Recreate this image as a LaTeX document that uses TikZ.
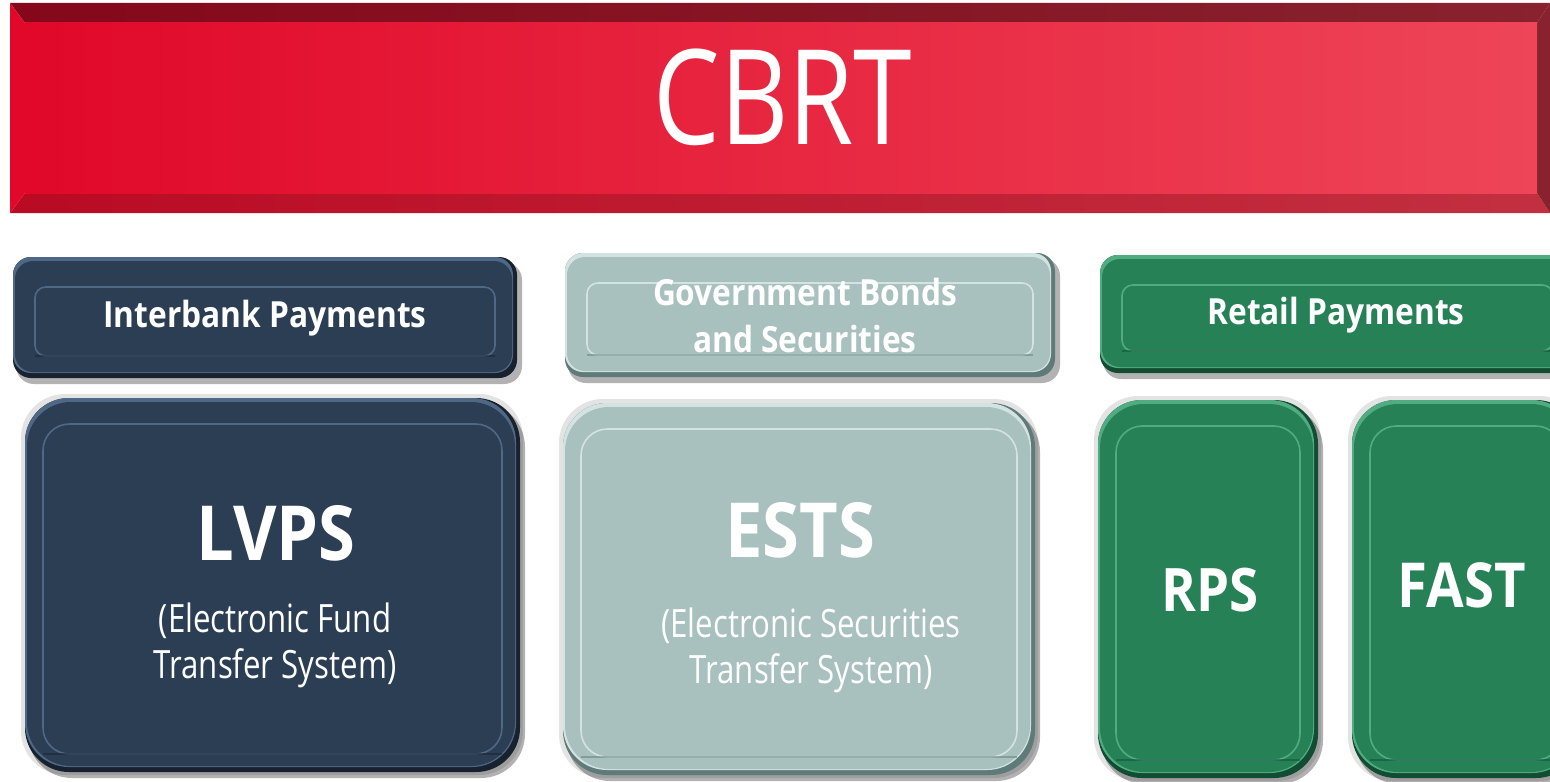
\documentclass[tikz,border=0pt]{standalone}
\usepackage{fontspec}
\setmainfont{Open Sans}
\newfontfamily\lightfont[FakeStretch=0.8]{Open Sans}
\newfontfamily\headfont[FakeStretch=0.88]{Open Sans}
\definecolor{cbred}{HTML}{E10829}
\definecolor{cbredlight}{HTML}{EE4558}
\definecolor{cbreddark}{HTML}{84081A}
\definecolor{cbredtop}{HTML}{88222E}
\definecolor{cbredlow}{HTML}{BA0A24}
\definecolor{cbredlowr}{HTML}{C23040}
\definecolor{navy}{HTML}{2C3E53}
\definecolor{navylight}{HTML}{4F6886}
\definecolor{navydark}{HTML}{18222E}
\definecolor{sea}{HTML}{A8C0BE}
\definecolor{sealight}{HTML}{D3E3E1}
\definecolor{seadark}{HTML}{5F7B79}
\definecolor{grn}{HTML}{268157}
\definecolor{grnlight}{HTML}{52AC82}
\definecolor{grndark}{HTML}{124C33}
\tikzset{
  headtext/.style={text=white, font=\headfont\bfseries\fontsize{18}{23.5}\selectfont, align=center},
  bigtext/.style={text=white, font=\headfont\bfseries\fontsize{38}{40}\selectfont},
  subtext/.style={text=white, font=\lightfont\fontsize{19.5}{23}\selectfont, align=center},
}
% bevelled plate: x1,y1,x2,y2,corner,colour,inset
\newcommand\plate[7]{%
  \fill[black, opacity=0.3, rounded corners=#5] (#1+3,#2+5) rectangle (#3+5,#4+6);
  \fill[#6dark, rounded corners=#5] (#1,#2) rectangle (#3,#4);
  \fill[#6light, rounded corners=#5] (#1,#2) rectangle (#3-4,#4-5);
  \fill[#6, rounded corners=#5] (#1+2,#2+4) rectangle (#3-5,#4-6);
  \draw[#6light, line width=0.8pt, rounded corners=#5*0.6] (#1+#7,#2+#7+8) rectangle (#3-#7,#4-#7);
  \draw[#6dark, opacity=0.5, line width=0.6pt] ([rounded corners=#5*0.6]#1+#7,#4-#7) -- (#3-#7,#4-#7);
}
\begin{document}
\begin{tikzpicture}[x=0.5pt, y=-0.5pt]
\useasboundingbox (0,0) rectangle (1550,781);
\clip (0,0) rectangle (1550,781);
% CBRT bar
\shade[left color=cbreddark, right color=cbredtop] (10,3) -- (1550,3) -- (1537,23) -- (25,23) -- cycle;
\shade[left color=cbredlow, right color=cbredlowr] (10,213) -- (1550,213) -- (1537,193) -- (25,193) -- cycle;
\fill[cbred] (10,3) -- (25,23) -- (25,193) -- (10,213) -- cycle;
\fill[cbredtop] (1550,3) -- (1537,23) -- (1537,193) -- (1550,213) -- cycle;
\shade[left color=cbred, right color=cbredlight] (25,23) rectangle (1537,193);
\node (cbrt) at (783,97) [text=white, font=\lightfont\fontsize{66}{70}\selectfont] {CBRT};
% header plates
\plate{13}{257}{517}{378}{9pt}{navy}{22}
\plate{565}{253}{1055}{377}{9pt}{sea}{22}
\plate{1100}{255}{1575}{373}{9pt}{grn}{22}
\node (interbank) at (265,318) [headtext] {Interbank Payments};
\node (bonds) at (805,315) [headtext] {Government Bonds\\and Securities};
\node (retail) at (1336,315) [headtext] {Retail Payments};
% system plates
\foreach \xa/\ya/\xb/\yb in {25/398/520/772, 563/403/1035/775, 1098/400/1318/778, 1352/400/1580/778}
  \fill[gray!22, rounded corners=22pt] (\xa-4,\ya-4) rectangle (\xb+3,\yb+3);
\plate{25}{398}{520}{772}{22pt}{navy}{18}
\plate{563}{403}{1035}{775}{22pt}{sea}{18}
\plate{1098}{400}{1318}{778}{22pt}{grn}{18}
\plate{1352}{400}{1580}{778}{22pt}{grn}{18}
\node (lvps) at (276,533) [bigtext] {LVPS};
\node (lvpsname) at (275,645) [subtext] {(Electronic Fund\\Transfer System)};
\node (ests) at (800,530) [bigtext] {ESTS};
\node (estsname) at (811,650) [subtext] {(Electronic Securities\\Transfer System)};
\node (rps) at (1210,590) [bigtext, font=\headfont\bfseries\fontsize{30}{32}\selectfont] {RPS};
\node (fast) at (1462,585) [bigtext, font=\headfont\bfseries\fontsize{31}{33}\selectfont] {FAST};
\end{tikzpicture}
\end{document}
